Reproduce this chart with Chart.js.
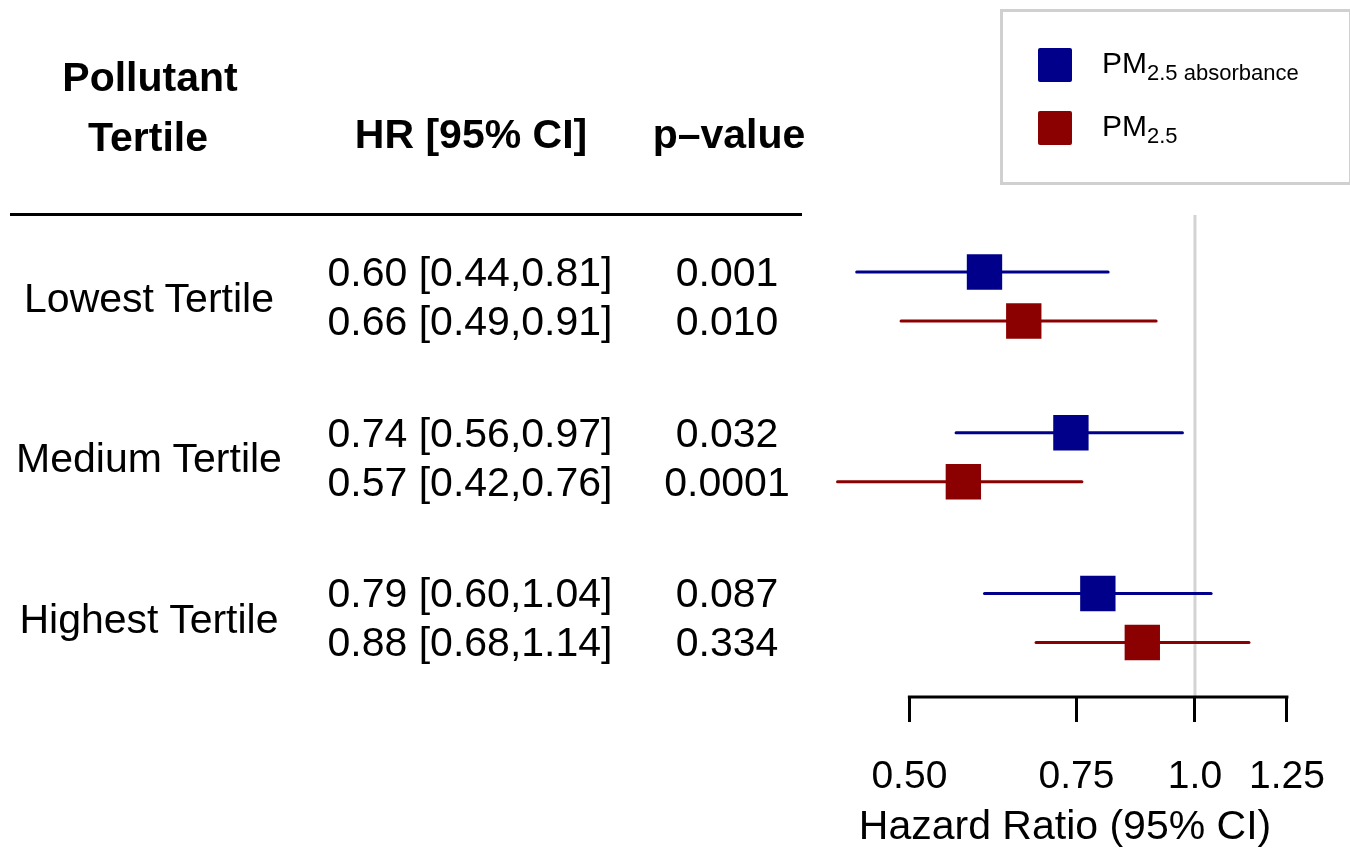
<!DOCTYPE html>
<html>
<head>
<meta charset="utf-8">
<script src="https://cdn.jsdelivr.net/npm/chart.js@4"></script>
<style>
  body { margin: 0; background: #fff; }
  #wrap { position: relative; width: 1350px; height: 848px; overflow: hidden; }
  #c { position: absolute; left: 0; top: 0; }
  .t { position: absolute; transform: translate(-50%, -50%); white-space: nowrap; line-height: 1;
       font: 41px "Liberation Sans", Arial, sans-serif; color: #000; }
  .b { font-weight: bold; }
  #rule { position: absolute; left: 10px; top: 213px; width: 792px; height: 3px; background: #000; }
  #legend { position: absolute; left: 1000px; top: 9px; width: 346px; height: 170px; border: 3px solid #d0d0d0; }
  .sw { position: absolute; width: 34px; height: 34px; border-radius: 2px; }
  .lt { position: absolute; transform: translateY(-50%); line-height: 1; white-space: nowrap;
        font: 30px "Liberation Sans", Arial, sans-serif; color: #000; }
  .lt sub { font-size: 22px; position: relative; top: 7px; vertical-align: baseline; }
</style>
</head>
<body>
<div id="wrap">
  <canvas id="c" width="1350" height="848"></canvas>
  <div id="table"></div>
  <div id="rule"></div>
  <div id="legend"></div>
</div>
<script>
// data
const tertiles = ['Lowest Tertile', 'Medium Tertile', 'Highest Tertile'];
const absHR = [0.60, 0.74, 0.79];
const absLow = [0.44, 0.56, 0.60];
const absHigh = [0.81, 0.97, 1.04];
const absP = ['0.001', '0.032', '0.087'];
const pmHR = [0.66, 0.57, 0.88];
const pmLow = [0.49, 0.42, 0.68];
const pmHigh = [0.91, 0.76, 1.14];
const pmP = ['0.010', '0.0001', '0.334'];
const tickValues = [0.5, 0.75, 1.0, 1.25];
const tickLabels = ['0.50', '0.75', '1.0', '1.25'];

const BLUE = '#00008b';
const RED = '#8b0000';
const GROUP_GAP = 3.28;  // rows per tertile block (incl. blank space)

// two series, each with its own row inside a tertile block
const series = [
  { name: 'PM', sub: '2.5 absorbance', color: BLUE, hr: absHR, low: absLow, high: absHigh, p: absP, row: 0 },
  { name: 'PM', sub: '2.5', color: RED, hr: pmHR, low: pmLow, high: pmHigh, p: pmP, row: 1 }
];
const rowY = (g, s) => g * GROUP_GAP + s.row;

const datasets = [];
// reference line at HR = 1
datasets.push({
  data: [{ x: 1, y: -1.163 }, { x: 1, y: 8.673 }],
  showLine: true, borderColor: '#d3d3d3', borderWidth: 3, pointRadius: 0, order: 10
});
series.forEach(s => {
  tertiles.forEach((t, g) => {
    datasets.push({
      data: [{ x: s.low[g], y: rowY(g, s) }, { x: s.high[g], y: rowY(g, s) }],
      showLine: true, borderColor: s.color, borderWidth: 3, borderCapStyle: 'round',
      pointRadius: 0, order: 5
    });
  });
  datasets.push({
    data: s.hr.map((v, g) => ({ x: v, y: rowY(g, s) })),
    pointStyle: 'rect', pointRadius: 25, pointBorderWidth: 0,
    backgroundColor: s.color, borderColor: s.color, order: 1
  });
});

// axis line only between the first and last tick
const axisLine = {
  id: 'axisLine',
  afterDraw(chart) {
    const x = chart.scales.x, ctx = chart.ctx;
    const y = chart.chartArea.bottom;
    ctx.save();
    ctx.strokeStyle = '#000';
    ctx.lineWidth = 3;
    ctx.beginPath();
    ctx.moveTo(x.getPixelForValue(tickValues[0]) - 1.5, y);
    ctx.lineTo(x.getPixelForValue(tickValues[tickValues.length - 1]) + 1.5, y);
    ctx.stroke();
    ctx.restore();
  }
};

const chart = new Chart(document.getElementById('c'), {
  type: 'scatter',
  data: { datasets },
  plugins: [axisLine],
  options: {
    responsive: false,
    animation: false,
    devicePixelRatio: 1,
    layout: { padding: { left: 830, right: 50, top: 0, bottom: 0 } },
    plugins: { legend: { display: false }, tooltip: { enabled: false } },
    scales: {
      x: {
        type: 'logarithmic',
        bounds: 'data',
        min: 0.4124,
        max: 1.2903,
        afterBuildTicks: s => { s.ticks = tickValues.map(v => ({ value: v })); },
        afterFit: s => { s.height = 151; s.paddingLeft = 0; s.paddingRight = 0; },
        border: { display: false },
        grid: { drawOnChartArea: false, drawTicks: true, tickLength: 25, color: '#000', lineWidth: 3 },
        ticks: {
          autoSkip: false, maxRotation: 0, padding: 32, color: '#000',
          font: { family: '"Liberation Sans", Arial, sans-serif', size: 39 },
          callback: (v, i) => tickLabels[i]
        },
        title: {
          display: true, text: 'Hazard Ratio (95% CI)', color: '#000',
          padding: { top: 0, bottom: 0 },
          font: { family: '"Liberation Sans", Arial, sans-serif', size: 41, lineHeight: 1.0 }
        }
      },
      y: {
        type: 'linear', display: false, reverse: true, bounds: 'data',
        min: -5.041, max: 8.673
      }
    }
  }
});

// table on the left, rows placed with the chart's y scale
const table = document.getElementById('table');
function addText(txt, x, y, bold) {
  const d = document.createElement('div');
  d.className = 't' + (bold ? ' b' : '');
  d.textContent = txt;
  d.style.left = x + 'px';
  d.style.top = y + 'px';
  table.appendChild(d);
}
addText('Pollutant', 150, 77, true);
addText('Tertile', 148, 137, true);
addText('HR [95% CI]', 471, 134, true);
addText('p\u2013value', 729, 134, true);

const yScale = chart.scales.y;
tertiles.forEach((t, g) => {
  const ys = series.map(s => yScale.getPixelForValue(rowY(g, s)));
  addText(t, 149, (ys[0] + ys[1]) / 2 + 1, false);
  series.forEach((s, k) => {
    addText(`${s.hr[g].toFixed(2)} [${s.low[g].toFixed(2)},${s.high[g].toFixed(2)}]`, 470, ys[k], false);
    addText(s.p[g], 727, ys[k], false);
  });
});

// legend
const legend = document.getElementById('legend');
series.forEach((s, k) => {
  const sw = document.createElement('div');
  sw.className = 'sw';
  sw.style.background = s.color;
  sw.style.left = '35px';
  sw.style.top = (36 + k * 63) + 'px';
  legend.appendChild(sw);
  const lt = document.createElement('div');
  lt.className = 'lt';
  lt.innerHTML = `${s.name}<sub>${s.sub}</sub>`;
  lt.style.left = '99px';
  lt.style.top = (51 + k * 63) + 'px';
  legend.appendChild(lt);
});
</script>
</body>
</html>
